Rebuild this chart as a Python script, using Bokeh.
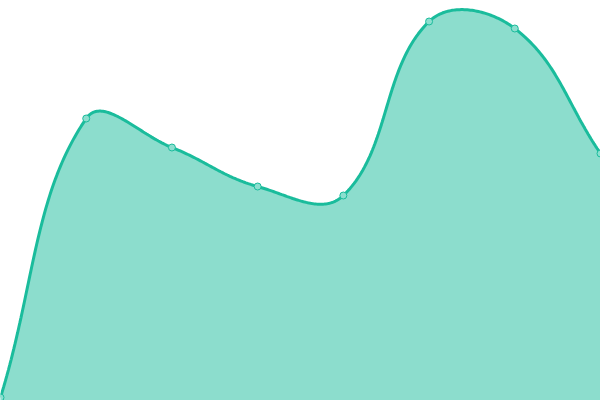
import math
from bokeh.plotting import figure
from bokeh.models import Range1d
from bokeh.embed import file_html
from bokeh.resources import INLINE

# ---- data ----
categories = ["A", "B", "C", "D", "E", "F", "G", "H"]
values = [3, 282, 253, 214, 205, 379, 372, 247]
y_min, y_max = 0, 400

LINE_COLOR = "#1abc9c"
POINT_FILL = "#8cdfcf"
TENSION = 0.4

W, H = 600, 400
X_SPAN = 600.0  # horizontal extent in chart units

n = len(categories)
step = X_SPAN / (n - 1)
xs = [i * step for i in range(n)]
pts = list(zip(xs, values))


def control_points(points, t):
    out = []
    m = len(points)
    for i in range(m):
        prev = points[max(i - 1, 0)]
        cur = points[i]
        nxt = points[min(i + 1, m - 1)]
        d01 = math.hypot(cur[0] - prev[0], cur[1] - prev[1])
        d12 = math.hypot(nxt[0] - cur[0], nxt[1] - cur[1])
        tot = d01 + d12
        s01 = d01 / tot if tot else 0.0
        s12 = d12 / tot if tot else 0.0
        fa, fb = t * s01, t * s12
        pcp = (cur[0] - fa * (nxt[0] - prev[0]), cur[1] - fa * (nxt[1] - prev[1]))
        ncp = (cur[0] + fb * (nxt[0] - prev[0]), cur[1] + fb * (nxt[1] - prev[1]))
        clamp = lambda p: (min(max(p[0], 0.0), X_SPAN), min(max(p[1], y_min), y_max))
        out.append((clamp(pcp), clamp(ncp)))
    return out


cps = control_points(pts, TENSION)
cx, cy = [], []
for i in range(n - 1):
    p0 = pts[i]
    c1 = cps[i][1]
    c2 = cps[i + 1][0]
    p3 = pts[i + 1]
    for k in range(60):
        s = k / 60.0
        a = (1 - s) ** 3
        b = 3 * (1 - s) ** 2 * s
        c = 3 * (1 - s) * s ** 2
        d = s ** 3
        cx.append(a * p0[0] + b * c1[0] + c * c2[0] + d * p3[0])
        cy.append(a * p0[1] + b * c1[1] + c * c2[1] + d * p3[1])
cx.append(pts[-1][0])
cy.append(pts[-1][1])

p = figure(width=W, height=H, output_backend="svg", toolbar_location=None,
           x_range=Range1d(0, X_SPAN), y_range=Range1d(y_min, y_max),
           x_axis_location=None, y_axis_location=None, min_border=0)
p.xgrid.visible = False
p.ygrid.visible = False
p.outline_line_color = None
p.background_fill_color = "white"
p.border_fill_color = "white"

p.patch(cx + [cx[-1], cx[0]], cy + [y_min, y_min],
        fill_color=LINE_COLOR, fill_alpha=0.5, line_color=None)
p.line(cx, cy, line_color=LINE_COLOR, line_width=3)
p.scatter(xs, values, size=7, marker="circle",
          fill_color=POINT_FILL, fill_alpha=1.0,
          line_color=LINE_COLOR, line_width=1)

open("out.html", "w").write(file_html(p, INLINE))
